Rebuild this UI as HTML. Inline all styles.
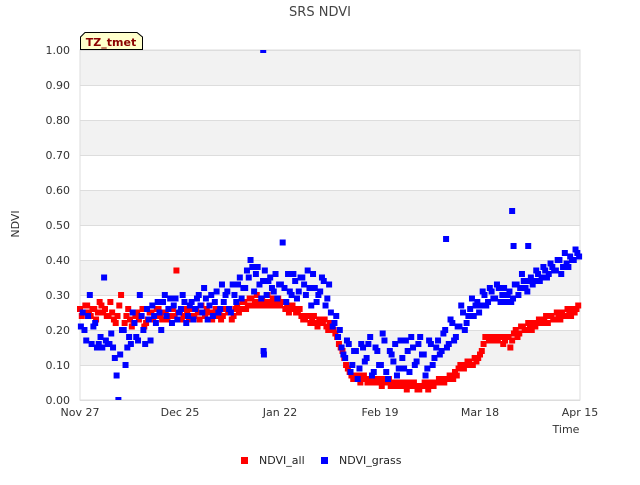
<!DOCTYPE html>
<html><head><meta charset="utf-8"><style>
body{margin:0;background:#fff;font-family:"Liberation Sans","DejaVu Sans",sans-serif}
svg text{font-family:"DejaVu Sans","Liberation Sans",sans-serif}
</style></head><body>
<svg id="c" width="640" height="480" viewBox="0 0 640 480">
<text x="320" y="16" text-anchor="middle" font-size="13" fill="#444">SRS NDVI</text>
<g id="bands"></g><g id="grid"></g>
<rect x="80" y="50" width="500" height="350" fill="none" stroke="#ddd"/>
<g id="ticks"></g>
<g id="pts"></g>
<path d="M80.5,49.5 V37 L85,32.5 H137 L142.5,37 V49.5 Z" fill="#ffffcc" stroke="#000"/>
<text x="111" y="46" text-anchor="middle" font-size="11" font-weight="bold" fill="#8b0000">TZ_tmet</text>
<text transform="translate(19,224) rotate(-90)" text-anchor="middle" font-size="11" fill="#333">NDVI</text>
<text x="566" y="433" text-anchor="middle" font-size="11" fill="#333">Time</text>
<g>
<rect x="241" y="457" width="7" height="7" fill="#ff0000"/>
<text x="259" y="464" font-size="11" fill="#222">NDVI_all</text>
<rect x="321" y="457" width="7" height="7" fill="#0000ff"/>
<text x="339" y="464" font-size="11" fill="#222">NDVI_grass</text>
</g>
</svg>
<script>
const xTickLabels=["Nov 27","Dec 25","Jan 22","Feb 19","Mar 18","Apr 15"];
const xTickDays=[0,28,56,84,112,140];
const yTicks=[0,0.1,0.2,0.3,0.4,0.5,0.6,0.7,0.8,0.9,1.0];
const redA=[.26,.25,.27,.24,.26,.25,.27,.26,.24,.25,.22,.27,.20,.24,.23,.22,.25,.24,.21,.23,.25,.24,.26,.23,.25,.24,.26,.37,.25,.24,.25,.26,.24,.25,.27,.24,.25,.23,.26,.25,.24,.26,.25,.24,.27,.26,.28,.27,.29,.28,.27,.29,.28,.27,.29,.28,.27,.28,.27,.26,.26,.25,.24,.23,.24,.23,.22,.23,.22,.21,.22,.20,.18,.15,.12,.09,.07,.06,.07,.06,.06,.05,.06,.05,.05,.06,.05,.04,.05,.04,.04,.04,.05,.04,.04,.03,.04,.04,.05,.04,.05,.06,.05,.06,.07,.08,.09,.10,.10,.11,.10,.11,.13,.16,.18,.17,.18,.17,.18,.17,.18,.17,.20,.19,.21,.20,.21,.22,.22,.23,.23,.22,.24,.23,.24,.25,.24,.25,.26,.26];
const redB=[.24,.27,.25,.26,.23,.28,.25,.24,.28,.23,.24,.30,.22,.26,.21,.24,.23,.26,.22,.25,.23,.26,.24,.25,.23,.26,.24,.25,.23,.26,.23,.24,.26,.23,.25,.26,.23,.25,.24,.23,.26,.25,.23,.26,.25,.28,.26,.29,.27,.30,.28,.27,.30,.28,.27,.29,.28,.26,.25,.27,.25,.26,.23,.24,.22,.24,.21,.22,.23,.20,.21,.19,.16,.14,.10,.08,.06,.07,.05,.07,.05,.06,.05,.06,.04,.05,.06,.05,.04,.05,.05,.03,.04,.05,.03,.04,.05,.03,.04,.05,.06,.05,.06,.07,.06,.07,.10,.09,.11,.10,.12,.12,.14,.18,.17,.18,.17,.18,.16,.18,.15,.19,.18,.21,.20,.22,.20,.21,.23,.22,.24,.24,.23,.25,.23,.24,.26,.24,.25,.27];
const blueA=[.21,.20,.24,.16,.22,.16,.15,.17,.16,.15,.07,.13,.20,.15,.16,.22,.17,.24,.16,.23,.27,.22,.25,.28,.24,.29,.27,.23,.26,.28,.24,.28,.26,.30,.25,.29,.27,.24,.31,.26,.28,.31,.25,.30,.33,.29,.32,.35,.38,.36,.33,.34,.30,.35,.31,.29,.33,.32,.36,.30,.34,.31,.35,.30,.32,.36,.28,.31,.34,.29,.25,.22,.18,.15,.12,.16,.10,.14,.09,.15,.12,.18,.08,.14,.10,.17,.06,.13,.16,.09,.12,.17,.08,.15,.11,.18,.13,.09,.16,.12,.17,.14,.20,.16,.22,.18,.21,.25,.22,.26,.24,.28,.27,.30,.28,.31,.29,.32,.30,.28,.31,.29,.33,.32,.34,.31,.35,.34,.36,.35,.37,.36,.38,.37,.40,.38,.39,.41,.40,.42];
const blueB=[.25,.17,.30,.21,.15,.18,.35,.16,.19,.12,.00,.20,.10,.18,.25,.18,.30,.20,.26,.17,.24,.28,.20,.30,.26,.22,.29,.25,.30,.22,.27,.23,.29,.27,.32,.23,.30,.28,.25,.33,.30,.26,.33,.28,.35,.32,.37,.40,.31,.38,.29,.37,.34,.32,.36,.33,.45,.28,.31,.36,.29,.35,.33,.37,.27,.32,.30,.35,.27,.33,.21,.24,.20,.13,.17,.08,.14,.06,.16,.11,.16,.07,.15,.10,.19,.08,.14,.11,.07,.17,.09,.14,.18,.10,.16,.13,.07,.17,.10,.15,.13,.19,.15,.23,.17,.21,.27,.20,.24,.29,.27,.25,.31,.27,.32,.29,.33,.28,.32,.30,.28,.33,.30,.36,.32,.34,.33,.37,.34,.38,.35,.39,.37,.40,.36,.42,.38,.40,.43,.41];
const blueOutDays=[51.3,51.4,51.5,102.5,121,121.4,125.5];
const blueOutVals=[1.0,0.14,0.13,0.46,0.54,0.44,0.44];

const NS="http://www.w3.org/2000/svg";
const X=d=>80+d*500/140, Y=v=>400-v*350;
function mk(tag,at,parent){const e=document.createElementNS(NS,tag);for(const k in at)e.setAttribute(k,at[k]);document.getElementById(parent).appendChild(e);return e;}
for(let i=0;i<10;i+=2){
 const r=mk('rect',{x:80,y:Y(yTicks[i+2]),width:500,height:Y(yTicks[i+1])-Y(yTicks[i+2]),fill:'#f2f2f2'},'bands');
 
 
}
yTicks.forEach(v=>{
 const l=mk('line',{x1:80,x2:580,y1:Y(v)+.5,y2:Y(v)+.5,stroke:'#ddd'},'grid');
 
 
 const t=mk('text',{x:70,y:Y(v)+4,'text-anchor':'end','font-size':11,fill:'#333'},'ticks');
 t.textContent=v.toFixed(2);
 
 
});
xTickDays.forEach((d,i)=>{
 const t=mk('text',{x:X(d),y:416,'text-anchor':'middle','font-size':11,fill:'#333'},'ticks');
 t.textContent=xTickLabels[i];
 
 
});
function pt(d,v,col,name){
 if(v>1)return;
 const y=Y(v);
 const top=Math.max(50,y-3), h=Math.min(400,y+3)-top;
 const r=mk('rect',{x:X(d)-3,y:top,width:6,height:h,fill:col},'pts');
 
 
}
redA.forEach((v,i)=>pt(i,v,'#ff0000','ndvi-all-point'));
redB.forEach((v,i)=>pt(i+0.5,v,'#ff0000','ndvi-all-point'));
blueA.forEach((v,i)=>pt(i+0.25,v,'#0000ff','ndvi-grass-point'));
blueB.forEach((v,i)=>pt(i+0.75,v,'#0000ff','ndvi-grass-point'));
blueOutDays.forEach((d,i)=>pt(d,blueOutVals[i],'#0000ff','ndvi-grass-point'));
</script>
</body></html>
